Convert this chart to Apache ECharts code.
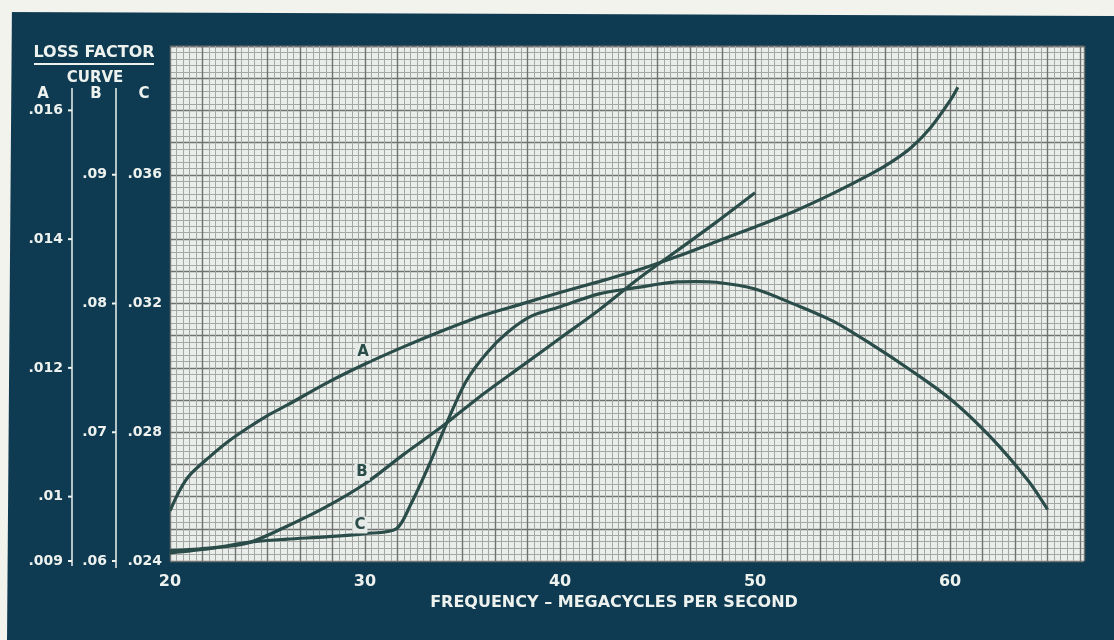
<!DOCTYPE html>
<html>
<head>
<meta charset="utf-8">
<script src="https://cdn.jsdelivr.net/npm/echarts@6/dist/echarts.min.js"></script>
<style>
html,body{margin:0;padding:0;background:#0f3b52;}
#chart{width:1114px;height:640px;}
</style>
</head>
<body>
<div id="chart"></div>
<script>
// ---- axis ranges / tick labels ----
const X_MIN = 20, X_MAX = 66.87;
const xTicks = [20, 30, 40, 50, 60];
const A_MIN = 0.009, A_MAX = 0.017;
const aTicks = [0.009, 0.01, 0.012, 0.014, 0.016];
const B_MIN = 0.06, B_MAX = 0.10;
const bTicks = [0.06, 0.07, 0.08, 0.09];
const C_MIN = 0.024, C_MAX = 0.040;
const cTicks = [0.024, 0.028, 0.032, 0.036];

// ---- curve A ----
const freqA = [20, 20.5, 21, 22, 23, 24, 25, 26, 28, 30, 32, 34, 36, 38, 40, 42, 44, 46, 48, 50, 52, 54, 56, 57, 58, 59, 60, 60.4];
const lossA = [0.00978, 0.0101, 0.01033, 0.01061, 0.01086, 0.01107, 0.01126, 0.01142, 0.01176, 0.01206, 0.01233, 0.01258, 0.01281, 0.01299, 0.01317, 0.01334, 0.01352, 0.01373, 0.01396, 0.01419, 0.01443, 0.01471, 0.01502, 0.0152, 0.01542, 0.01573, 0.01615, 0.01636];

// ---- curve B ----
const freqB = [20, 22, 24, 26, 28, 30, 32, 34, 36, 38, 40, 42, 44, 46, 48, 50];
const lossB = [0.0608, 0.061, 0.0614, 0.0627, 0.0642, 0.066, 0.0683, 0.0705, 0.0729, 0.0751, 0.0773, 0.0795, 0.0819, 0.0841, 0.0863, 0.0886];

// ---- curve C ----
const freqC = [20, 22, 24, 26, 28, 30, 31.6, 32.3, 33.3, 34.2, 35.2, 36.3, 37.3, 38.5, 40, 42, 44, 46, 47, 48, 50, 52, 54, 56, 58, 60, 62, 64, 65];
const lossC = [0.02425, 0.02438, 0.02458, 0.02468, 0.02475, 0.02485, 0.025, 0.0257, 0.027, 0.0283, 0.0296, 0.0305, 0.0311, 0.0316, 0.0319, 0.0323, 0.0325, 0.03267, 0.03268, 0.03266, 0.03245, 0.03198, 0.03145, 0.03072, 0.02992, 0.02904, 0.0279, 0.0265, 0.0256];

// ---- curve label positions (data units) ----
const labelA = [29.9, 0.01225];
const labelB = [29.85, 0.0669];
const labelC = [29.74, 0.02512];

const zip = (xs, ys) => xs.map((x, i) => [x, ys[i]]);
const fmt = v => String(parseFloat(v.toFixed(4))).replace(/^0/, '');

const WHITE = '#eef2ef';
const INK = '#2b4d4a';
const FONT = 'DejaVu Sans';
const yLabelStyle = {color: WHITE, fontFamily: FONT, fontSize: 14, fontWeight: 'bold'};
const xLabelStyle = {color: WHITE, fontFamily: FONT, fontSize: 16, fontWeight: 'bold'};

// label with a small tick mark touching the axis rule
const tickRich = {
  v: {color: WHITE, fontFamily: FONT, fontSize: 14, fontWeight: 'bold', padding: [0, 5, 0, 0]},
  t: {width: 4, height: 2, backgroundColor: WHITE}
};
const fmtTick = v => '{v|' + fmt(v) + '}{t|}';

const chart = echarts.init(document.getElementById('chart'));

function curve(name, xs, ys, yIdx, lab) {
  return {
    name: name, type: 'line', xAxisIndex: 0, yAxisIndex: yIdx,
    data: zip(xs, ys), showSymbol: false, smooth: 0.3,
    lineStyle: {color: INK, width: 3.2}, z: 5,
    markPoint: {
      symbol: 'rect', symbolSize: [1, 1], itemStyle: {color: 'rgba(0,0,0,0)'},
      label: {show: true, position: 'inside', formatter: name, color: INK, fontFamily: FONT,
        fontWeight: 'bold', fontSize: 15, backgroundColor: '#e6ebe8', padding: [1, 2]},
      data: [{coord: lab}], z: 10
    }
  };
}

const option = {
  backgroundColor: '#0f3b52',
  animation: false,
  grid: {left: 170, right: 30, top: 46, bottom: 79, show: true,
         backgroundColor: '#eaeeea', borderWidth: 0},
  xAxis: [
    {type: 'value', min: X_MIN, max: X_MAX, interval: 10,
     axisLine: {show: false}, axisTick: {show: false}, splitLine: {show: false},
     axisLabel: Object.assign({customValues: xTicks, margin: 13, formatter: v => String(v)}, xLabelStyle),
     name: 'FREQUENCY \u2013 MEGACYCLES PER SECOND', nameLocation: 'middle', nameGap: 33,
     nameTextStyle: {color: WHITE, fontFamily: FONT, fontSize: 16, fontWeight: 'bold', padding: [0, 26, 0, 0]}},
    // graph-paper rulings (one major square = 5/3 MHz)
    {type: 'value', min: 0, max: (X_MAX - X_MIN) * 0.6, interval: 1, show: true,
     axisLine: {show: false}, axisTick: {show: false}, axisLabel: {show: false},
     splitLine: {show: true, lineStyle: {color: '#6f7270', width: 1.4}},
     minorTick: {show: false, splitNumber: 5},
     minorSplitLine: {show: true, lineStyle: {color: '#a4a8a5', width: 1}}}
  ],
  yAxis: [
    {type: 'value', position: 'left', offset: 98, min: A_MIN, max: A_MAX,
     axisLine: {show: false}, splitLine: {show: false}, axisTick: {show: false},
     axisLabel: {customValues: aTicks, margin: 0, formatter: fmtTick, rich: tickRich}},
    {type: 'value', position: 'left', offset: 54, min: B_MIN, max: B_MAX,
     axisLine: {show: false}, splitLine: {show: false}, axisTick: {show: false},
     axisLabel: {customValues: bTicks, margin: 0, formatter: fmtTick, rich: tickRich}},
    {type: 'value', position: 'left', offset: 0, min: C_MIN, max: C_MAX,
     axisLine: {show: false}, splitLine: {show: false}, axisTick: {show: false},
     axisLabel: Object.assign({customValues: cTicks, margin: 8, formatter: fmt}, yLabelStyle)},
    // graph-paper rulings (one major square = .0005 on scale A)
    {type: 'value', min: 0, max: (A_MAX - A_MIN) / 0.0005, interval: 1, show: true,
     axisLine: {show: false}, axisTick: {show: false}, axisLabel: {show: false},
     splitLine: {show: true, lineStyle: {color: '#6f7270', width: 1.4}},
     minorTick: {show: false, splitNumber: 5},
     minorSplitLine: {show: true, lineStyle: {color: '#a4a8a5', width: 1}}}
  ],
  series: [
    curve('A', freqA, lossA, 0, labelA),
    curve('B', freqB, lossB, 1, labelB),
    curve('C', freqC, lossC, 2, labelC)
  ],
  graphic: [
    {type: 'polygon', shape: {points: [[0, 0], [1114, 0], [1114, 16], [0, 12]]}, style: {fill: '#f3f3ee'}, z: 100},
    {type: 'polygon', shape: {points: [[0, 0], [12, 0], [7, 640], [0, 640]]}, style: {fill: '#f3f3ee'}, z: 100},
    {type: 'text', x: 94, y: 53, style: {text: 'LOSS FACTOR', fill: WHITE, font: 'bold 16px "DejaVu Sans"', align: 'center', verticalAlign: 'middle', textAlign: 'center', textVerticalAlign: 'middle'}},
    {type: 'line', shape: {x1: 34, y1: 64, x2: 154, y2: 64}, style: {stroke: WHITE, lineWidth: 2}},
    {type: 'text', x: 95, y: 78, style: {text: 'CURVE', fill: WHITE, font: 'bold 15px "DejaVu Sans"', align: 'center', verticalAlign: 'middle', textAlign: 'center', textVerticalAlign: 'middle'}},
    {type: 'text', x: 43, y: 94, style: {text: 'A', fill: WHITE, font: 'bold 15px "DejaVu Sans"', align: 'center', verticalAlign: 'middle', textAlign: 'center', textVerticalAlign: 'middle'}},
    {type: 'text', x: 96, y: 94, style: {text: 'B', fill: WHITE, font: 'bold 15px "DejaVu Sans"', align: 'center', verticalAlign: 'middle', textAlign: 'center', textVerticalAlign: 'middle'}},
    {type: 'text', x: 144, y: 94, style: {text: 'C', fill: WHITE, font: 'bold 15px "DejaVu Sans"', align: 'center', verticalAlign: 'middle', textAlign: 'center', textVerticalAlign: 'middle'}},
    {type: 'line', shape: {x1: 72, y1: 88, x2: 72, y2: 566}, style: {stroke: WHITE, lineWidth: 1.5}},
    {type: 'line', shape: {x1: 116, y1: 88, x2: 116, y2: 568}, style: {stroke: WHITE, lineWidth: 1.5}}
  ]
};
chart.setOption(option);
</script>
</body>
</html>
